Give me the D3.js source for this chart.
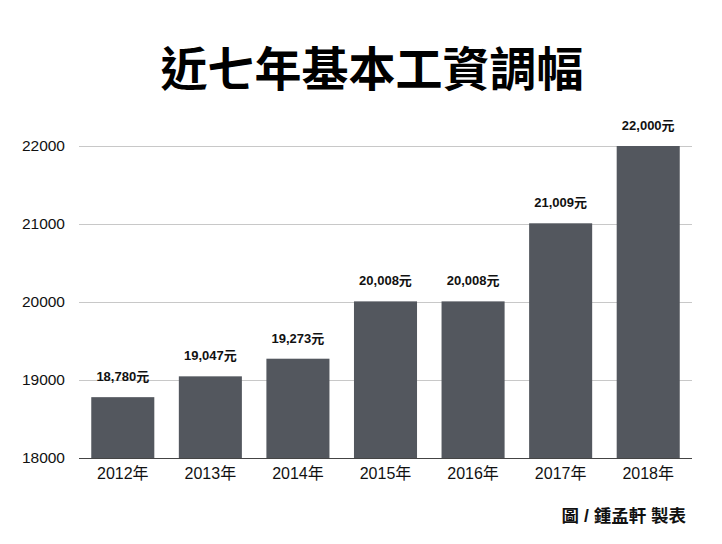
<!DOCTYPE html>
<html><head><meta charset="utf-8">
<script src="https://cdn.jsdelivr.net/npm/d3@7"></script>
<style>
body{margin:0;background:#fff;}
text{font-family:"Helvetica Neue",Helvetica,"Liberation Sans",Arial,"Noto Sans CJK TC",sans-serif;}
</style></head><body>
<svg id="c" width="722" height="544"></svg>
<script>
const categories = ["2012年","2013年","2014年","2015年","2016年","2017年","2018年"];
const values = [18780, 19047, 19273, 20008, 20008, 21009, 22000];
const valueLabels = ["18,780元","19,047元","19,273元","20,008元","20,008元","21,009元","22,000元"];
const yTicks = [18000, 19000, 20000, 21000, 22000];
const title = "近七年基本工資調幅";
const credit = "圖 / 鍾孟軒 製表";

const svg = d3.select("#c");
const m = {left:79, right:30, top:146, bottom:86};
const W = 722, H = 544;
const x = d3.scaleBand().domain(categories).range([m.left, W - m.right]).paddingInner(0.28).paddingOuter(0.14);
const y = d3.scaleLinear().domain([18000, 22000]).range([H - m.bottom, m.top]);

svg.append("text").attr("x", 372).attr("y", 86).attr("text-anchor","middle")
  .style("font-family",'"Noto Sans CJK TC",sans-serif').style("font-weight","700")
  .style("font-size","47px").attr("fill","#000").text(title);

// gridlines
svg.append("g").selectAll("line").data(yTicks.slice(1)).join("line")
  .attr("x1", m.left).attr("x2", W - m.right)
  .attr("y1", d=>y(d)).attr("y2", d=>y(d))
  .attr("stroke","#c8c8c8").attr("stroke-width",1).attr("shape-rendering","crispEdges");

// y axis
const ya = svg.append("g").attr("transform",`translate(${m.left},0)`)
  .call(d3.axisLeft(y).tickValues(yTicks).tickFormat(d3.format("d")).tickSize(0).tickPadding(14));
ya.select(".domain").remove();
ya.selectAll("text").style("font-size","15.5px").attr("fill","#111");

// bars
svg.append("g").selectAll("rect").data(values).join("rect")
  .attr("x",(d,i)=>x(categories[i])).attr("width",x.bandwidth())
  .attr("y",d=>y(d)).attr("height",d=>y(18000)-y(d)).attr("fill","#53575e");

// baseline
svg.append("line").attr("x1",m.left).attr("x2",W-m.right).attr("y1",y(18000)).attr("y2",y(18000))
  .attr("stroke","#444").attr("stroke-width",1).attr("shape-rendering","crispEdges");

// x axis
const xa = svg.append("g").attr("transform",`translate(0,${y(18000)})`)
  .call(d3.axisBottom(x).tickSize(0).tickPadding(10));
xa.select(".domain").remove();
xa.selectAll("text").style("font-size","16px").attr("fill","#111");

// value labels
svg.append("g").selectAll("text").data(values).join("text")
  .attr("x",(d,i)=>x(categories[i])+x.bandwidth()/2).attr("y",d=>y(d)-16)
  .attr("text-anchor","middle").style("font-size","13px").style("font-weight","700")
  .attr("fill","#111").text((d,i)=>valueLabels[i]);

svg.append("text").attr("x",686).attr("y",522).attr("text-anchor","end")
  .style("font-size","17.5px").style("font-weight","700").attr("fill","#111").text(credit);
</script></body></html>
